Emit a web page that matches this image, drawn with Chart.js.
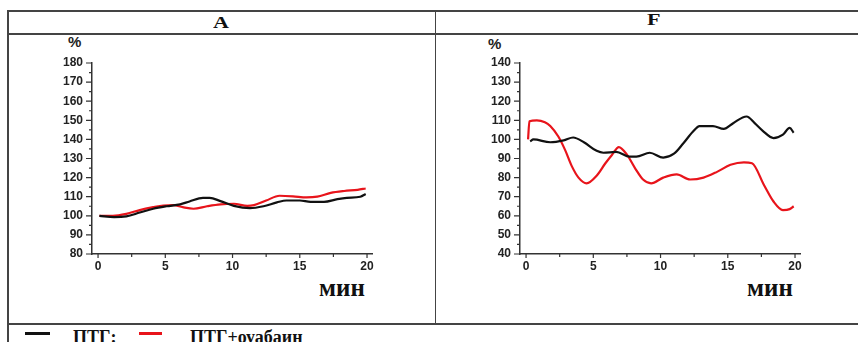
<!doctype html>
<html lang="ru">
<head>
<meta charset="UTF-8">
<title>ПТГ / ПТГ+оуабаин</title>
<script src="https://cdn.jsdelivr.net/npm/chart.js"></script>
<style>
  body { margin: 0; background: #fff; width: 858px; height: 342px; overflow: hidden; position: relative; }
  .ln { position: absolute; background: #444; }
  .t { position: absolute; font-family: "Liberation Serif", "Times New Roman", serif; font-weight: bold; color: #111; white-space: nowrap; line-height: 1; }
  .wide { transform: scaleX(1.3); transform-origin: left top; }
  .pct { position: absolute; font-family: Arial, "Liberation Sans", sans-serif; font-weight: bold; font-size: 15px; color: #222; line-height: 1; }
  canvas { position: absolute; }
</style>
</head>
<body>
<!-- table grid -->
<div class="ln" style="left:7px;top:10px;width:851px;height:1.5px"></div>
<div class="ln" style="left:7px;top:33px;width:851px;height:1.5px"></div>
<div class="ln" style="left:7px;top:323px;width:851px;height:1.5px"></div>
<div class="ln" style="left:7px;top:10px;width:1.5px;height:332px"></div>
<div class="ln" style="left:434.5px;top:10px;width:1.5px;height:314px"></div>

<div class="t wide" style="left:213px;top:14px;font-size:17px">A</div>
<div class="t wide" style="left:647px;top:11px;font-size:17px">F</div>

<div class="pct" style="left:68px;top:34px">%</div>
<div class="pct" style="left:488px;top:36px">%</div>

<div class="t" style="left:319px;top:275px;font-size:25px">мин</div>
<div class="t" style="left:747px;top:275px;font-size:25px">мин</div>

<!-- legend row -->
<div class="ln" style="left:25px;top:332px;width:25px;height:2.5px;background:#111"></div>
<div class="t" style="left:73px;top:328px;font-size:18px">ПТГ:</div>
<div class="ln" style="left:139px;top:332px;width:23px;height:2.5px;background:#e8141b"></div>
<div class="t" style="left:190px;top:328px;font-size:18px">ПТГ+оуабаин</div>

<canvas id="chartA" style="left:8px;top:34px" width="426" height="288"></canvas>
<canvas id="chartF" style="left:436px;top:34px" width="422" height="288"></canvas>

<script>
// ---- data ----
const xTicks = [0, 5, 10, 15, 20];
const yTicksA = [80, 90, 100, 110, 120, 130, 140, 150, 160, 170, 180];
const yTicksF = [40, 50, 60, 70, 80, 90, 100, 110, 120, 130, 140];

// panel A
const tPtgA = [0.1, 1.2, 2.1, 3.1, 4.1, 5.1, 6.1, 6.8, 7.8, 8.3, 9.1, 10.1, 11.3, 12.3, 13.3, 14.0, 15.0, 15.8, 16.8, 17.8, 18.5, 19.5, 19.9];
const ptgA  = [100, 99.3, 99.7, 101.7, 103.7, 105, 106, 107.5, 109.4, 109.4, 107.7, 105.2, 104, 105, 107, 108, 108, 107.3, 107.3, 108.7, 109.4, 110, 111.4];
const tOuaA = [0.1, 1.1, 2.1, 3.1, 4.1, 4.85, 5.6, 6.3, 7.1, 8.1, 9.1, 10.1, 11.1, 11.6, 12.5, 13.5, 14.5, 15.5, 16.3, 17.3, 18.3, 19.3, 19.9];
const ouaA  = [100, 100, 101, 103, 104.5, 105.4, 105.6, 104.5, 103.7, 105, 106, 106.3, 105.2, 105.6, 108, 110.5, 110.2, 109.6, 110, 112, 113, 113.6, 114.3];

// panel F
const tPtgF = [0.3, 0.55, 1.8, 2.8, 3.5, 4.3, 5.25, 5.75, 6.7, 7.7, 8.2, 9.2, 10.2, 11.0, 11.7, 12.4, 12.9, 13.9, 14.7, 15.4, 16.4, 17.0, 17.6, 18.4, 19.1, 19.6, 19.9];
const ptgF  = [99, 100, 98.5, 99.5, 101, 98.5, 94, 93, 93.5, 91, 91, 93, 90.5, 92.5, 98, 104, 107, 107, 105.5, 108.5, 112, 108.5, 104.5, 100.7, 102.5, 106, 103.5];
const tOuaF = [0.15, 0.25, 0.8, 1.4, 1.8, 2.4, 2.9, 3.4, 3.9, 4.5, 5.25, 5.9, 6.4, 6.9, 7.5, 8.1, 8.7, 9.3, 10.2, 11.2, 12.2, 13.2, 14.2, 15.2, 16.2, 16.8, 17.7, 18.4, 19.1, 19.6, 19.9];
const ouaF  = [100, 109.5, 110, 109, 107, 101.5, 94.5, 86, 80, 77, 81, 87.5, 92, 96, 92, 85, 79, 77, 80, 81.7, 79, 80, 83, 86.7, 88, 87.5, 76, 67.5, 63, 63.5, 65];

const BLACK = '#111111';
const RED = '#e8141b';

const pairs = (xs, ys) => xs.map((x, i) => ({ x: x, y: ys[i] }));

// draws major + short minor tick marks through the scales
const tickMarks = {
  id: 'tickMarks',
  afterDraw(chart) {
    const ctx = chart.ctx;
    const xs = chart.scales.x, ys = chart.scales.y;
    ctx.save();
    ctx.strokeStyle = '#333';
    ctx.lineWidth = 1.2;
    ctx.beginPath();
    const yv = ys.ticks.map(t => t.value);
    for (let i = 0; i < yv.length; i++) {
      const p = ys.getPixelForValue(yv[i]);
      ctx.moveTo(xs.left - 6, p); ctx.lineTo(xs.left, p);
      if (i < yv.length - 1) {
        const m = ys.getPixelForValue((yv[i] + yv[i + 1]) / 2);
        ctx.moveTo(xs.left - 3, m); ctx.lineTo(xs.left, m);
      }
    }
    const xv = xs.ticks.map(t => t.value);
    for (let i = 0; i < xv.length; i++) {
      const p = xs.getPixelForValue(xv[i]);
      ctx.moveTo(p, ys.bottom); ctx.lineTo(p, ys.bottom + 4);
      if (i < xv.length - 1) {
        const m = xs.getPixelForValue((xv[i] + xv[i + 1]) / 2);
        ctx.moveTo(m, ys.bottom); ctx.lineTo(m, ys.bottom + 3);
      }
    }
    ctx.stroke();
    ctx.restore();
  }
};

function makeChart(id, black, red, yTicks, padRight) {
  const tickFont = { family: 'Arial, "Liberation Sans", sans-serif', size: 12, weight: 'bold' };
  return new Chart(document.getElementById(id), {
    type: 'line',
    data: {
      datasets: [
        { label: 'ПТГ', data: black, borderColor: BLACK, borderWidth: 2.2, pointRadius: 0, cubicInterpolationMode: 'monotone' },
        { label: 'ПТГ+оуабаин', data: red, borderColor: RED, borderWidth: 2.2, pointRadius: 0, cubicInterpolationMode: 'monotone' }
      ]
    },
    options: {
      responsive: false,
      animation: false,
      layout: { padding: { left: 0, right: padRight, top: 29, bottom: 38 } },
      plugins: { legend: { display: false }, tooltip: { enabled: false } },
      scales: {
        x: {
          type: 'linear',
          min: -0.45, max: 20.37,
          afterBuildTicks: s => { s.ticks = xTicks.map(v => ({ value: v })); },
          afterFit: s => { s.height = 30; },
          grid: { display: false, drawTicks: false },
          border: { color: '#333', width: 1.5 },
          ticks: { font: tickFont, color: '#222', padding: 5, maxRotation: 0 }
        },
        y: {
          min: yTicks[0], max: yTicks[yTicks.length - 1],
          afterBuildTicks: s => { s.ticks = yTicks.map(v => ({ value: v })); },
          afterFit: s => { s.width = 84; },
          grid: { display: false, drawTicks: false },
          border: { color: '#333', width: 1.5 },
          ticks: { font: tickFont, color: '#222', padding: 9 }
        }
      }
    },
    plugins: [tickMarks]
  });
}

makeChart('chartA', pairs(tPtgA, ptgA), pairs(tOuaA, ouaA), yTicksA, 62);
makeChart('chartF', pairs(tPtgF, ptgF), pairs(tOuaF, ouaF), yTicksF, 58);
</script>
</body>
</html>
